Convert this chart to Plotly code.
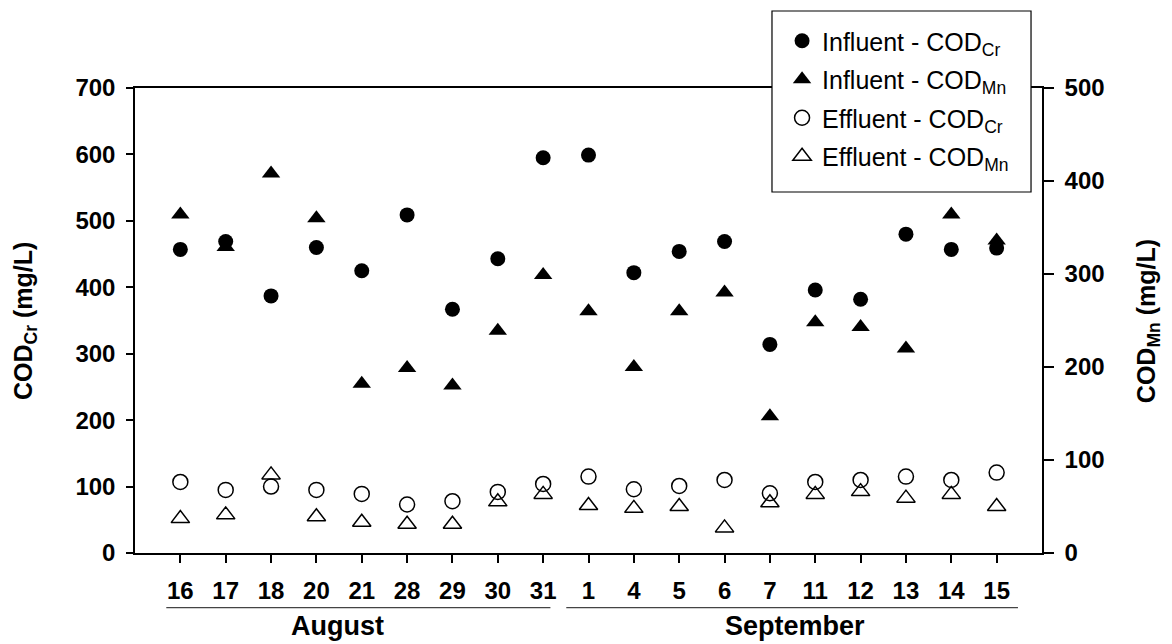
import plotly.graph_objects as go

days = ["16", "17", "18", "20", "21", "28", "29", "30", "31",
        "1", "4", "5", "6", "7", "11", "12", "13", "14", "15"]
month_names = ["August", "September"]

influent_cr = [457, 469, 387, 460, 425, 509, 367, 443, 595,
               599, 422, 454, 469, 314, 396, 382, 480, 457, 459]
influent_mn = [364, 329, 408, 360, 182, 199, 180, 239, 299,
               260, 200, 260, 280, 147, 248, 243, 220, 364, 336]
effluent_cr = [107, 95, 100, 95, 89, 73, 78, 92, 104,
               115, 96, 101, 110, 90, 107, 110, 115, 110, 121]
effluent_mn = [37, 41, 84, 39, 33, 31, 31, 55, 63,
               51, 48, 50, 27, 54, 63, 66, 59, 63, 50]

xpos = list(range(len(days)))

FONT = "Liberation Sans, Arial, sans-serif"
bold_tick = dict(family=FONT, size=24, color="black", weight="bold")

fig = go.Figure()

# CODMn on right axis (y), CODCr on left axis (y2, drawn on top)
fig.add_trace(go.Scatter(x=xpos, y=influent_mn, mode="markers", yaxis="y",
                         name="Influent - COD<sub>Mn</sub>", legendrank=2, legendgroup="b",
                         marker=dict(symbol="triangle-up", size=16, color="black")))
fig.add_trace(go.Scatter(x=xpos, y=effluent_mn, mode="markers", yaxis="y",
                         name="Effluent - COD<sub>Mn</sub>", legendrank=4, legendgroup="d",
                         marker=dict(symbol="triangle-up-open", size=16, color="black",
                                     line=dict(width=1.5, color="black"))))
fig.add_trace(go.Scatter(x=xpos, y=influent_cr, mode="markers", yaxis="y2",
                         name="Influent - COD<sub>Cr</sub>", legendrank=1, legendgroup="a",
                         marker=dict(symbol="circle", size=15, color="black")))
fig.add_trace(go.Scatter(x=xpos, y=effluent_cr, mode="markers", yaxis="y2",
                         name="Effluent - COD<sub>Cr</sub>", legendrank=3, legendgroup="c",
                         marker=dict(symbol="circle-open", size=15, color="black",
                                     line=dict(width=1.5, color="black"))))

fig.update_layout(
    width=1172, height=644, autosize=False,
    margin=dict(l=135, r=130, t=88, b=91),
    plot_bgcolor="white", paper_bgcolor="white",
    font=dict(family=FONT, color="black"),
    showlegend=True,
    legend=dict(x=0.7134, y=1.1505, xanchor="left", yanchor="top",
                bgcolor="rgba(0,0,0,0)", borderwidth=0,
                font=dict(family=FONT, size=25, color="black"),
                traceorder="grouped", tracegroupgap=3, itemsizing="trace"),
    xaxis=dict(range=[-1, 19], tickvals=xpos, ticktext=days,
               ticks="outside", ticklen=8, tickwidth=1.5, tickcolor="black",
               showline=True, linecolor="black", linewidth=1.5, mirror=True,
               showgrid=False, zeroline=False, tickfont=bold_tick,
               ticklabelstandoff=7),
    yaxis=dict(range=[0, 500], dtick=100, side="right",
               ticks="outside", ticklen=10, tickwidth=1.5, tickcolor="black",
               showline=True, linecolor="black", linewidth=1.5,
               showgrid=False, zeroline=False, tickfont=bold_tick,
               ticklabelstandoff=6),
    yaxis2=dict(range=[0, 700], dtick=100, side="left", overlaying="y",
                ticks="outside", ticklen=7, tickwidth=1.5, tickcolor="black",
                showline=True, linecolor="black", linewidth=1.5,
                showgrid=False, zeroline=False, tickfont=bold_tick,
                ticklabelstandoff=6),
)

# legend frame
fig.add_shape(type="rect", xref="paper", yref="paper", layer="above",
              x0=0.7023, x1=0.9879, y0=0.7763, y1=1.1656,
              fillcolor="white", line=dict(color="black", width=1.2))

# month grouping lines and labels
month_spans = [(-0.31, 8.16), (8.51, 18.47)]
month_centers = [3.47, 13.56]
for (a, b), c, name in zip(month_spans, month_centers, month_names):
    fig.add_shape(type="line", xref="x", yref="paper", x0=a, x1=b,
                  y0=-0.1176, y1=-0.1176, line=dict(color="#444", width=1.2))
    fig.add_annotation(x=c, y=-0.157, xref="x", yref="paper", text=name,
                       showarrow=False, xanchor="center", yanchor="middle",
                       font=dict(family=FONT, size=27, color="black", weight="bold"))

# axis titles
fig.add_annotation(x=-0.1213, y=0.4989, xref="paper", yref="paper",
                   text="COD<sub>Cr</sub> (mg/L)", textangle=-90, showarrow=False,
                   xanchor="center", yanchor="middle",
                   font=dict(family=FONT, size=25, color="black", weight="bold"))
fig.add_annotation(x=1.117, y=0.4989, xref="paper", yref="paper",
                   text="COD<sub>Mn</sub> (mg/L)", textangle=-90, showarrow=False,
                   xanchor="center", yanchor="middle",
                   font=dict(family=FONT, size=25, color="black", weight="bold"))

fig.write_html("out.html")
